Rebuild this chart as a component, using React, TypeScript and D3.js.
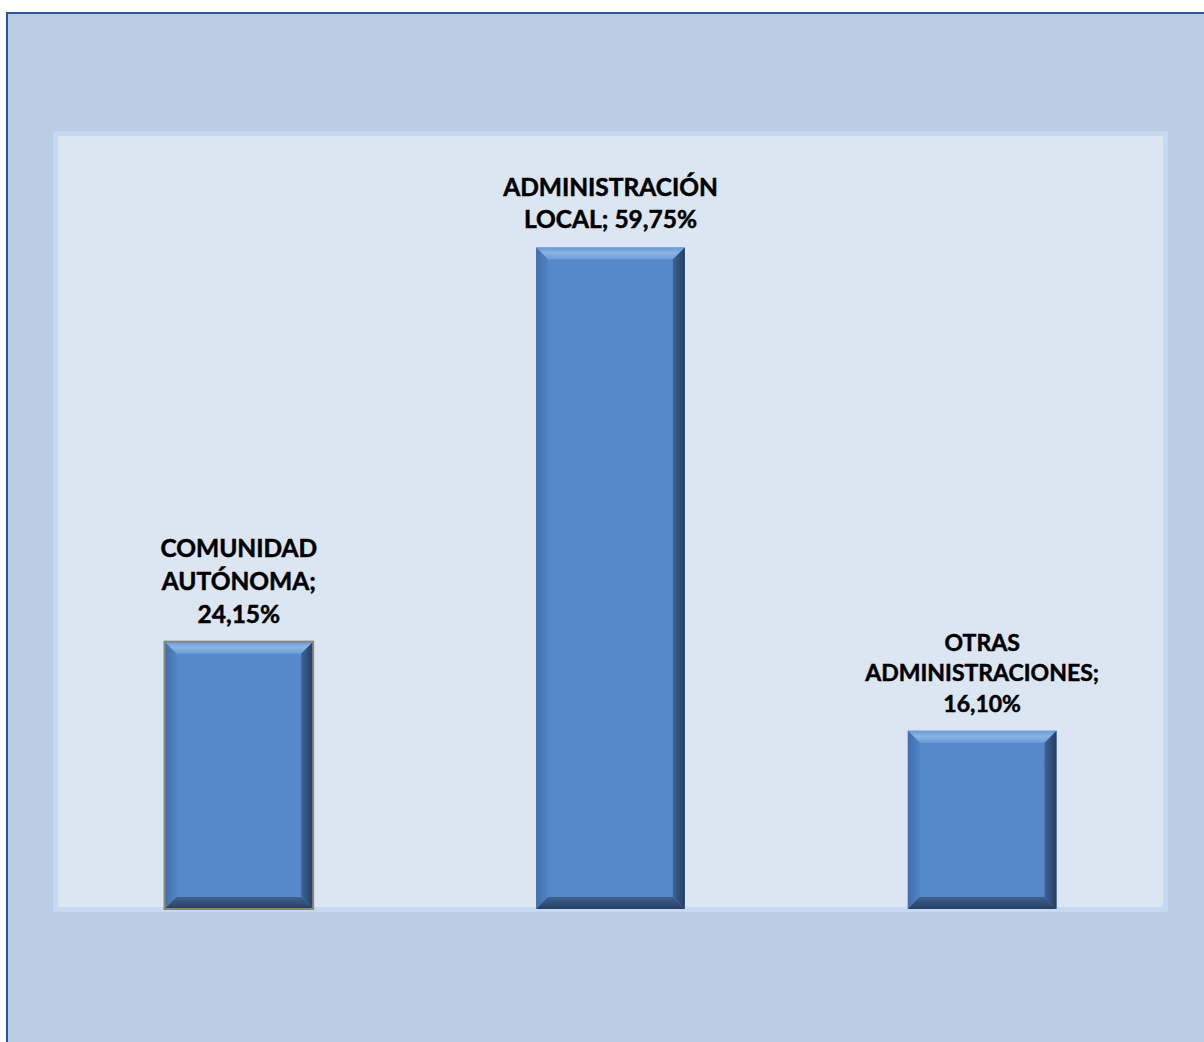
import * as d3 from "d3";

// chart data
const categories = ["COMUNIDAD AUTÓNOMA", "ADMINISTRACIÓN LOCAL", "OTRAS ADMINISTRACIONES"];
const shares = [24.15, 59.75, 16.1];
const yTicks = [0, 70]; // value axis is hidden, only its extent matters

const width = 1204;
const height = 1042;
const plot = { left: 53, top: 131, right: 1168, bottom: 912 };
const baseline = 909;
const bevel = 12;
const fontFamily = "Lato, 'Open Sans', 'DejaVu Sans', sans-serif";
const labelSizes = [24.5, 24.5, 23]; // excel shrank the widest label a little
const outlined = "COMUNIDAD AUTÓNOMA"; // this point has a grey border in the source

const fmt = (v: number) => v.toFixed(2).replace(".", ",") + "%";

// greedy wrap like excel does on data labels
function wrap(text: string, maxChars = 15) {
  const words = text.split(" ");
  const lines: string[] = [];
  let cur = "";
  for (const w of words) {
    const next = cur ? cur + " " + w : w;
    if (cur && next.length > maxChars) {
      lines.push(cur);
      cur = w;
    } else cur = next;
  }
  if (cur) lines.push(cur);
  return lines;
}

export default function App() {
  const x = d3
    .scaleBand<string>()
    .domain(categories)
    .range([plot.left, plot.right])
    .paddingInner(0.6)
    .paddingOuter(0.3);
  const y = d3
    .scaleLinear()
    .domain(d3.extent(yTicks) as [number, number])
    .range([baseline, 134]);

  return (
    <div style={{ position: "absolute", left: 0, top: 0 }}>
      <svg width={width} height={height} style={{ display: "block" }}>
        <defs>
          <linearGradient id="bev-top" x1="0" y1="0" x2="0" y2="1">
            <stop offset="0" stopColor="#6a98d3" />
            <stop offset="0.45" stopColor="#8cb4e4" />
            <stop offset="1" stopColor="#6e9cd7" />
          </linearGradient>
          <linearGradient id="bev-left" x1="0" y1="0" x2="1" y2="0">
            <stop offset="0" stopColor="#426fab" />
            <stop offset="1" stopColor="#5183c3" />
          </linearGradient>
          <linearGradient id="bev-right" x1="0" y1="0" x2="1" y2="0">
            <stop offset="0" stopColor="#3d649b" />
            <stop offset="1" stopColor="#253c5e" />
          </linearGradient>
          <linearGradient id="bev-bottom" x1="0" y1="0" x2="0" y2="1">
            <stop offset="0" stopColor="#3b6192" />
            <stop offset="1" stopColor="#283f63" />
          </linearGradient>
        </defs>

        {/* chart area */}
        <rect x={7} y={13} width={width + 20} height={height + 20} fill="#b9cde5" stroke="#2c5592" strokeWidth={2} />

        {/* plot area with its soft rim */}
        <rect
          x={plot.left}
          y={plot.top}
          width={plot.right - plot.left}
          height={plot.bottom - plot.top}
          rx={3}
          fill="#c6d9f0"
        />
        <rect
          x={plot.left + 5}
          y={plot.top + 5}
          width={plot.right - plot.left - 10}
          height={plot.bottom - plot.top - 10}
          rx={2}
          fill="#dce6f2"
        />

        {categories.map((c, i) => {
          const x0 = x(c)!;
          const x1 = x0 + x.bandwidth();
          const y0 = y(shares[i]);
          const y1 = baseline;
          const b = bevel;
          const fs = labelSizes[i];
          const lines = wrap(`${c}; ${fmt(shares[i])}`);
          const lh = fs * 1.33;
          const cx = x0 + x.bandwidth() / 2;
          return (
            <g key={c}>
              <rect x={x0} y={y0} width={x1 - x0} height={y1 - y0} fill="#5689ca" />
              <polygon points={`${x0},${y0} ${x1},${y0} ${x1 - b},${y0 + b} ${x0 + b},${y0 + b}`} fill="url(#bev-top)" />
              <polygon points={`${x0},${y0} ${x0 + b},${y0 + b} ${x0 + b},${y1 - b} ${x0},${y1}`} fill="url(#bev-left)" />
              <polygon points={`${x1},${y0} ${x1},${y1} ${x1 - b},${y1 - b} ${x1 - b},${y0 + b}`} fill="url(#bev-right)" />
              <polygon points={`${x0},${y1} ${x1},${y1} ${x1 - b},${y1 - b} ${x0 + b},${y1 - b}`} fill="url(#bev-bottom)" />
              {c === outlined && (
                <rect x={x0} y={y0} width={x1 - x0} height={y1 - y0} fill="none" stroke="#8a8978" strokeWidth={2} />
              )}
              <text
                textAnchor="middle"
                fontFamily={fontFamily}
                fontWeight="bold"
                fontSize={fs}
                fill="#000"
                stroke="#000"
                strokeWidth={0.5}
              >
                {lines.map((l, k) => (
                  <tspan key={k} x={cx} y={y0 - 19 - (lines.length - 1 - k) * lh}>
                    {l}
                  </tspan>
                ))}
              </text>
            </g>
          );
        })}
      </svg>
    </div>
  );
}
